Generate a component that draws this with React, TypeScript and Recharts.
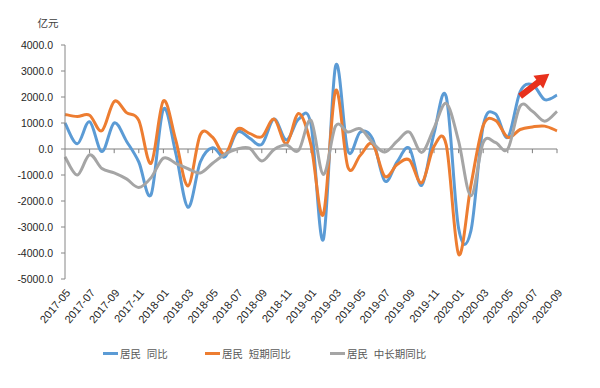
import React from 'react';
import { LineChart, Line, XAxis, YAxis, ReferenceLine, Legend } from 'recharts';

const months = [
  '2017-05', '2017-06', '2017-07', '2017-08', '2017-09', '2017-10', '2017-11', '2017-12',
  '2018-01', '2018-02', '2018-03', '2018-04', '2018-05', '2018-06', '2018-07', '2018-08',
  '2018-09', '2018-10', '2018-11', '2018-12', '2019-01', '2019-02', '2019-03', '2019-04',
  '2019-05', '2019-06', '2019-07', '2019-08', '2019-09', '2019-10', '2019-11', '2019-12',
  '2020-01', '2020-02', '2020-03', '2020-04', '2020-05', '2020-06', '2020-07', '2020-08',
  '2020-09',
];

// 居民 同比
const residentTotal = [
  1000, 200, 1050, -100, 1000, 300, -500, -1750,
  1530, -150, -2240, -500, 50, -300, 650, 420,
  180, 1150, 350, 1150, 950, -3480, 3200, -80,
  650, 400, -1230, -500, 30, -1400, 600, 2000,
  -3050, -3150, 900, 1350, 450, 2200, 2480, 1900,
  2070,
];

// 居民 短期同比
const residentShort = [
  1330, 1250, 1300, 700, 1830, 1400, 1100, -550,
  1850, 350, -1420, 550, 450, -200, 760, 600,
  470, 1150, 200, 1370, 150, -2520, 2250, -700,
  -250, 200, -1050, -600, -420, -1300, 100, 150,
  -4050, -1400, 900, 1100, 450, 750, 850, 880,
  700,
];

// 居民 中长期同比
const residentLong = [
  -300, -1000, -220, -750, -920, -1150, -1480, -1100,
  -350, -550, -760, -920, -550, -200, 0, 30,
  -460, -20, 150, -50, 1100, -980, 880, 650,
  780, 250, -120, 300, 650, -130, 800, 1750,
  300, -1800, 250, 250, 0, 1650, 1450, 1070,
  1450,
];

const yTicks = [4000, 3000, 2000, 1000, 0, -1000, -2000, -3000, -4000, -5000];
const seriesKeys = ['total', 'short', 'long'];
const seriesNames = ['居民  同比', '居民  短期同比', '居民  中长期同比'];
const seriesColors = ['#5b9bd5', '#ed7d31', '#a5a5a5'];
const unitLabel = '亿元';
// trend arrow (annotation) anchored in data space
const arrowFrom = { x: '2020-06', y: 2030 };
const arrowTo = { x: '2020-08', y: 2760 };
// small tick marks drawn on the zero axis, every second month
const zeroTickMonths = months.filter((_, i) => i > 0 && i % 2 === 0);
const zeroTickDepth = -160;

const data = months.map((m, i) => ({
  month: m,
  total: residentTotal[i],
  short: residentShort[i],
  long: residentLong[i],
}));

const FONT = '"Liberation Sans", Arial, "Noto Sans CJK SC", sans-serif';

// Excel-like smoothed line (Catmull-Rom through points)
const excelSmooth: any = (context: any) => {
  let xs: number[] = [];
  let ys: number[] = [];
  return {
    areaStart() {},
    areaEnd() {},
    lineStart() {
      xs = [];
      ys = [];
    },
    lineEnd() {
      const n = xs.length;
      if (!n) return;
      context.moveTo(xs[0], ys[0]);
      if (n === 1) return;
      for (let i = 0; i < n - 1; i++) {
        const i0 = Math.max(i - 1, 0);
        const i3 = Math.min(i + 2, n - 1);
        const c1x = xs[i] + (xs[i + 1] - xs[i0]) / 6;
        const c1y = ys[i] + (ys[i + 1] - ys[i0]) / 6;
        const c2x = xs[i + 1] - (xs[i3] - xs[i]) / 6;
        const c2y = ys[i + 1] - (ys[i3] - ys[i]) / 6;
        context.bezierCurveTo(c1x, c1y, c2x, c2y, xs[i + 1], ys[i + 1]);
      }
    },
    point(x: number, y: number) {
      xs.push(+x);
      ys.push(+y);
    },
  };
};

const XTick = (props: any) => {
  const { x, y, payload } = props;
  const ax = x + 6;
  const ay = y + 14;
  return (
    <text
      x={ax}
      y={ay}
      transform={`rotate(-50 ${ax} ${ay})`}
      textAnchor="end"
      fontSize={11}
      fill="#262626"
      fontFamily={FONT}
    >
      {payload.value}
    </text>
  );
};

const ArrowShape = (props: any) => {
  const { x1, y1, x2, y2 } = props;
  if ([x1, y1, x2, y2].some((v) => typeof v !== 'number' || isNaN(v))) return null;
  const ext = 1.19;
  const tx = x1 + (x2 - x1) * ext;
  const ty = y1 + (y2 - y1) * ext;
  const dx = tx - x1;
  const dy = ty - y1;
  const len = Math.sqrt(dx * dx + dy * dy);
  const ux = dx / len;
  const uy = dy / len;
  const nx = -uy;
  const ny = ux;
  const headLen = 14;
  const headW = 8;
  const shaftW = 3.2;
  const bx = tx - ux * headLen;
  const by = ty - uy * headLen;
  const pts = [
    [x1 + nx * shaftW, y1 + ny * shaftW],
    [bx + nx * shaftW, by + ny * shaftW],
    [bx + nx * headW, by + ny * headW],
    [tx, ty],
    [bx - nx * headW, by - ny * headW],
    [bx - nx * shaftW, by - ny * shaftW],
    [x1 - nx * shaftW, y1 - ny * shaftW],
  ];
  return <polygon points={pts.map((p) => p.join(',')).join(' ')} fill="#e8311c" />;
};

const renderLegend = () => {
  const lefts = [103, 205, 330];
  return (
    <div style={{ position: 'relative', width: 600, height: 20 }}>
      {seriesNames.map((name, i) => (
        <div
          key={name}
          style={{
            position: 'absolute',
            left: lefts[i],
            top: 0,
            height: 20,
            display: 'flex',
            alignItems: 'center',
            fontFamily: FONT,
            fontSize: 10.5,
            color: '#595959',
            whiteSpace: 'pre',
          }}
        >
          <span
            style={{
              display: 'inline-block',
              width: 15,
              height: 3,
              background: seriesColors[i],
              marginRight: 2,
            }}
          />
          {name}
        </div>
      ))}
    </div>
  );
};

const UnitLabel = (props: any) => {
  const vb = props.viewBox || {};
  return (
    <text
      x={(vb.x || 0) + 48}
      y={27}
      textAnchor="middle"
      fontSize={10.5}
      fill="#404040"
      fontFamily={FONT}
    >
      {unitLabel}
    </text>
  );
};

export default function App() {
  return (
    <div style={{ position: 'absolute', left: 0, top: 0, background: '#fff' }}>
      <LineChart
        width={600}
        height={388}
        data={data}
        margin={{ top: 45, right: 43, left: 0, bottom: 25 }}
      >
        <XAxis
          dataKey="month"
          interval={1}
          axisLine={false}
          tickLine={false}
          tickSize={0}
          tickMargin={0}
          height={64}
          tick={<XTick />}
        />
        <YAxis
          domain={[-5000, 4000]}
          ticks={yTicks}
          interval={0}
          tickFormatter={(v: number) => v.toFixed(1)}
          axisLine={{ stroke: '#868686' }}
          tickLine={{ stroke: '#868686' }}
          tickSize={4}
          tickMargin={8}
          width={65}
          tick={{ fontSize: 10.5, fill: '#262626', fontFamily: FONT }}
          label={<UnitLabel />}
        />
        <ReferenceLine y={0} stroke="#7f7f7f" strokeWidth={1} />
        {zeroTickMonths.map((m) => (
          <ReferenceLine
            key={'t' + m}
            segment={[
              { x: m, y: 0 },
              { x: m, y: zeroTickDepth },
            ]}
            stroke="#7f7f7f"
            strokeWidth={1}
          />
        ))}
        {seriesKeys.map((k, i) => (
          <Line
            key={k}
            dataKey={k}
            name={seriesNames[i]}
            type={excelSmooth}
            stroke={seriesColors[i]}
            strokeWidth={3}
            dot={false}
            activeDot={false}
            isAnimationActive={false}
          />
        ))}
        <ReferenceLine
          segment={[arrowFrom, arrowTo]}
          shape={(p: any) => <ArrowShape {...p} />}
          ifOverflow="visible"
        />
        <Legend verticalAlign="bottom" content={renderLegend} wrapperStyle={{ left: 0, width: 600 }} />
      </LineChart>
    </div>
  );
}
